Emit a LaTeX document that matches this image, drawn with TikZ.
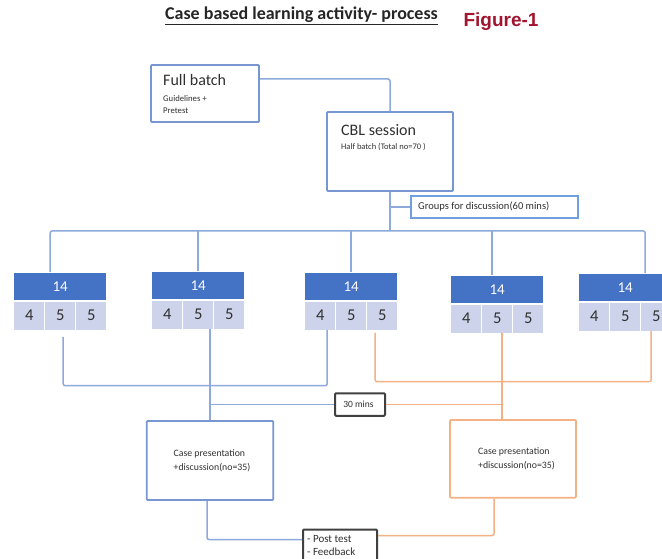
\documentclass[tikz,border=0pt]{standalone}
\usepackage{fontspec}
\setmainfont{Carlito}
\newfontfamily\arialfont{Liberation Sans}
\definecolor{lb}{HTML}{8EA9DB}
\definecolor{bb}{HTML}{7896D2}
\definecolor{gb}{HTML}{6FA0DC}
\definecolor{hb}{HTML}{4472C4}
\definecolor{cf}{HTML}{CDD3EA}
\definecolor{orl}{HTML}{F4B183}
\definecolor{figred}{HTML}{A3152F}
\definecolor{txt}{HTML}{303030}
\newcommand\fs[1]{\fontsize{#1}{#1}\selectfont}
\newcommand\grp[3]{%
  \node[hdr, anchor=north west] (#1h) at (#2,#3) {14};
  \node[cell, anchor=north west] (#1a) at ([yshift=-1pt]#1h.south west) {4};
  \node[cell, anchor=north] (#1b) at ([yshift=-1pt]#1h.south) {5};
  \node[cell, anchor=north east] (#1c) at ([yshift=-1pt]#1h.south east) {5};
}
\begin{document}
\begin{tikzpicture}[x=1pt,y=-1pt,
  bl/.style={draw=lb, line width=1.5pt, rounded corners=2pt},
  orn/.style={draw=orl, line width=1.5pt, rounded corners=2pt},
  bbox/.style={draw=bb, line width=1.8pt, rounded corners=1pt, inner sep=0pt},
  obox/.style={draw=orl, line width=1.8pt, rounded corners=1pt, inner sep=0pt},
  kbox/.style={draw=black!75, line width=2pt, rounded corners=1pt, inner sep=0pt},
  hdr/.style={fill=hb, text=white, minimum width=92pt, minimum height=27pt, inner sep=0pt, font=\fs{15}},
  cell/.style={fill=cf, text=txt, minimum width=30pt, minimum height=28pt, inner sep=0pt, font=\fs{16.5}},
  lbl/.style={inner sep=0pt, text=txt, align=left}]
\useasboundingbox (0,0) rectangle (662,559);
\fill[white] (0,0) rectangle (662,559);
\clip (0,0) rectangle (662,559);

% title
\node[lbl, text=black!85, font=\fs{18}\bfseries] (title) at (301.5,16) {\underline{Case based learning activity- process}};
\node[inner sep=0pt, text=figred, font=\arialfont\fs{19}\bfseries] (fig) at (501,21.5) {Figure-1};

% top boxes
\node[bbox, minimum width=108pt, minimum height=57pt] (full) at (205,93.5) {};
\node[lbl, anchor=west, font=\fs{16}] (fullt) at (163,80) {Full batch};
\node[lbl, anchor=north west, font=\fs{8.7}] (fulls) at (163,95) {Guidelines +\\[4pt]Pretest};

\node[bbox, minimum width=126pt, minimum height=79pt] (cbl) at (390,151.5) {};
\node[lbl, anchor=west, font=\fs{16}] (cblt) at (341,130) {CBL session};
\node[lbl, anchor=west, font=\fs{8.5}] (cbls) at (341,146.5) {Half batch (Total no=70 )};

\node[draw=gb, line width=1.5pt, inner sep=0pt, minimum width=167pt, minimum height=22pt] (groups) at (494.5,207) {};
\node[lbl, anchor=west, font=\fs{10.5}] (groupst) at (418,207) {Groups for discussion(60 mins)};

\coordinate (hub) at (390,231);

% groups
\grp{ga}{14}{273}
\grp{gb}{152}{272}
\grp{gc}{305}{273}
\grp{gd}{451}{276}
\grp{ge}{579}{274}

% top connectors
\draw[bl] ([yshift=14.5pt]full.east) -| (cbl.north);
\draw[bl] (cbl.south) -- (hub);
\draw[bl, rounded corners=0pt] (cbl.south |- groups.west) -- (groups.west);
\draw[bl] ([xshift=-10pt,yshift=1pt]gah.north) |- ([xshift=20pt]geh.north |- hub) -- ([xshift=20pt,yshift=1pt]geh.north);
\draw[bl] ([yshift=1pt]gbh.north) -- (gbh.north |- hub);
\draw[bl] ([yshift=1pt]gch.north) -- (gch.north |- hub);
\draw[bl] ([xshift=-5pt,yshift=1pt]gdh.north) -- ([xshift=-5pt]gdh.north |- hub);

% lower boxes
\node[bbox, minimum width=126.6pt, minimum height=79pt] (casel) at (210,460.5) {};
\node[lbl, anchor=center, font=\fs{9.8}] (caselt) at (212,461) {Case presentation\\[4pt]+discussion(no=35)};
\node[obox, minimum width=126pt, minimum height=77.7pt] (caser) at (513,458.8) {};
\node[lbl, anchor=center, font=\fs{9.8}] (casert) at (516.5,459) {Case presentation\\[4pt]+discussion(no=35)};
\node[kbox, fill=white, minimum width=50pt, minimum height=22.5pt] (thirty) at (360,404.5) {};
\node[lbl, font=\fs{9.5}] (thirtyt) at (358.5,404.5) {30 mins};
\node[kbox, minimum width=74pt, minimum height=40pt] (post) at (340,549.5) {};
\node[lbl, anchor=north west, font=\fs{11}] (postt) at (307,535.5) {- Post test\\[2pt]- Feedback};

% lower connectors
\coordinate (o4) at ([xshift=5pt]gdb.south);
\draw[bl] ([xshift=3pt,yshift=-7pt]gab.south) |- ([xshift=7pt]gca.south |- 0,385.7) -- ([xshift=7pt]gca.south);
\draw[bl] ([xshift=12pt]gbb.south) -- ([xshift=12pt]gbb.south |- casel.north);
\draw[bl] (thirty.west -| casel.north) -- (thirty.west);
\draw[orn] ([xshift=-7pt,yshift=-3pt]gcc.south) |- ([xshift=-5pt]gec.south |- 0,381.7) -- ([xshift=-5pt]gec.south);
\draw[orn] (o4) -- (o4 |- caser.north);
\draw[orn] (thirty.east) -- (thirty.east -| o4);
\draw[bl] ([xshift=-3pt]casel.south) |- ([yshift=10pt]post.west);
\draw[orn] ([xshift=-19pt]caser.south) |- ([yshift=14pt]post.east);
\end{tikzpicture}
\end{document}
